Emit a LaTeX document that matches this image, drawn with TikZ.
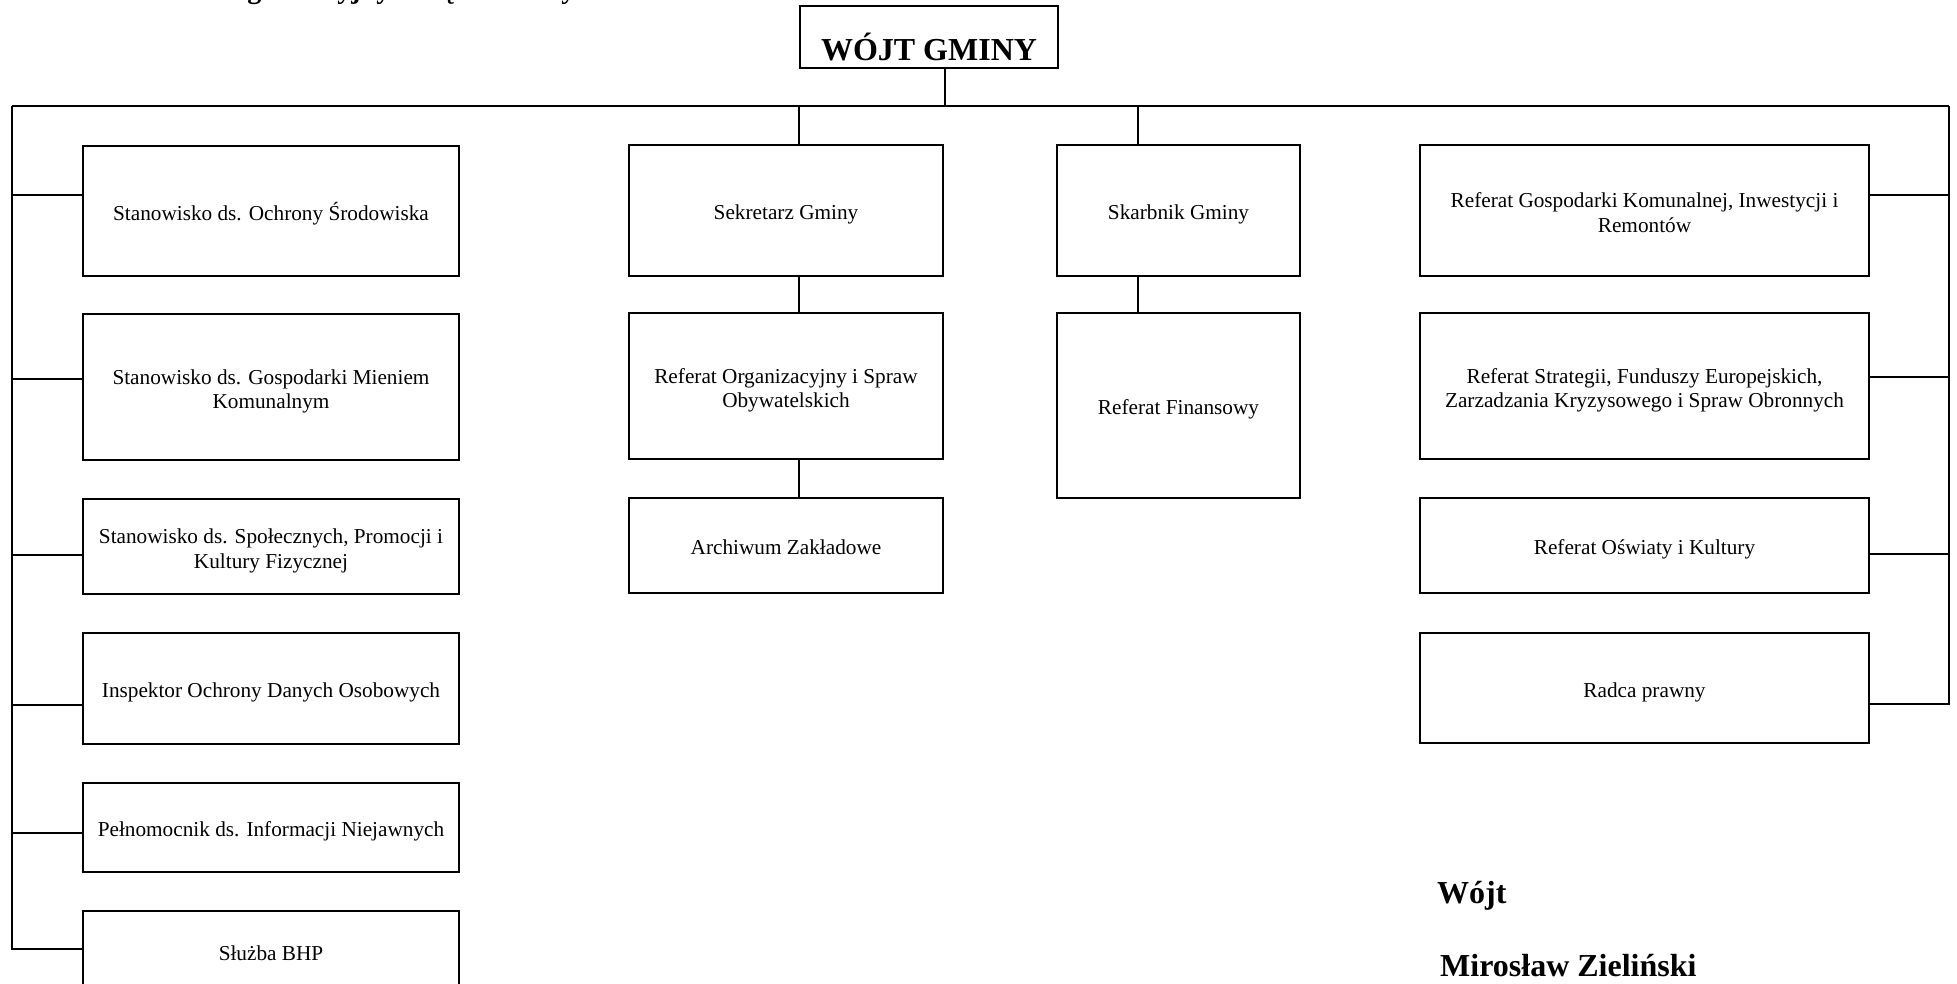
\documentclass[tikz,border=0pt]{standalone}
\usepackage{fontspec}
\setmainfont{Liberation Serif}
\begin{document}
\begin{tikzpicture}[x=1pt,y=-1pt,
  box/.style={draw, line width=1.3pt, align=center, inner sep=0pt,
    font=\fontsize{21.25}{24.5}\selectfont, text height=23.5pt, text depth=4.6pt},
  box2/.style={box, text height=48pt},
  conn/.style={line width=1.3pt},
  bigbold/.style={font=\fontsize{32}{34}\selectfont\bfseries}]
\useasboundingbox (0,0) rectangle (1957,984);
\clip (0,0) rectangle (1957,984);

% title (cut off at the top edge)
\node[anchor=base west, inner sep=0pt, font=\fontsize{28}{30}\selectfont\bfseries] (title) at (111,-1.5) {Schemat organizacyjny Urzędu Gminy};

% head
\node[draw, line width=1.3pt, inner sep=0pt, bigbold, text height=47pt, text depth=0pt, minimum width=258pt, minimum height=62pt] (W) at (929,37) {WÓJT GMINY};

% left column
\node[box, minimum width=376pt, minimum height=130pt] (L1) at (271,211) {Stanowisko ds. Ochrony Środowiska};
\node[box2, minimum width=376pt, minimum height=146pt] (L2) at (271,387) {Stanowisko ds. Gospodarki Mieniem\\Komunalnym};
\node[box2, minimum width=376pt, minimum height=95pt] (L3) at (271,546.5) {Stanowisko ds. Społecznych, Promocji i\\Kultury Fizycznej};
\node[box, minimum width=376pt, minimum height=111pt] (L4) at (271,688.5) {Inspektor Ochrony Danych Osobowych};
\node[box, minimum width=376pt, minimum height=89pt] (L5) at (271,827.5) {Pełnomocnik ds. Informacji Niejawnych};
\node[box, minimum width=376pt, minimum height=80pt] (L6) at (271,951) {Służba BHP};

% centre column 1
\node[box, minimum width=314pt, minimum height=131pt] (C1) at (786,210.5) {Sekretarz Gminy};
\node[box2, minimum width=314pt, minimum height=146pt] (C2) at (786,386) {Referat Organizacyjny i Spraw\\Obywatelskich};
\node[box, minimum width=314pt, minimum height=95pt] (C3) at (786,545.5) {Archiwum Zakładowe};

% centre column 2
\node[box, minimum width=243pt, minimum height=131pt] (D1) at (1178.5,210.5) {Skarbnik Gminy};
\node[box, minimum width=243pt, minimum height=185pt] (D2) at (1178.5,405.5) {Referat Finansowy};

% right column
\node[box2, minimum width=449pt, minimum height=131pt] (R1) at (1644.5,210.5) {Referat Gospodarki Komunalnej, Inwestycji i\\Remontów};
\node[box2, minimum width=449pt, minimum height=146pt] (R2) at (1644.5,386) {Referat Strategii, Funduszy Europejskich,\\Zarzadzania Kryzysowego i Spraw Obronnych};
\node[box, minimum width=449pt, minimum height=95pt] (R3) at (1644.5,545.5) {Referat Oświaty i Kultury};
\node[box, minimum width=449pt, minimum height=110pt] (R4) at (1644.5,688) {Radca prawny};

% signature
\node[anchor=base west, inner sep=0pt, bigbold] (sig1) at (1437,903) {Wójt};
\node[anchor=base west, inner sep=0pt, bigbold] (sig2) at (1440,976) {Mirosław Zieliński};

% junction coordinates
\coordinate (wb) at (945,106);
\coordinate (busL) at (12,106);
\coordinate (busR) at (1949,106);
\coordinate (c0) at (799,106);
\coordinate (d0) at (1138,106);
\coordinate (l1) at (12,195);
\coordinate (l2) at (12,379);
\coordinate (l3) at (12,555);
\coordinate (l4) at (12,705);
\coordinate (l5) at (12,833);
\coordinate (l6) at (12,949);
\coordinate (r1) at (1949,195);
\coordinate (r2) at (1949,377);
\coordinate (r3) at (1949,554);
\coordinate (r4) at (1949,704);

% connectors
\draw[conn] (W.south -| wb) -- (wb);
\draw[conn] (busL) -- (busR);
\draw[conn] (busL) -- (l6) -- (l6 -| L6.west);
\foreach \j/\n in {l1/L1,l2/L2,l3/L3,l4/L4,l5/L5}
  \draw[conn] (\j) -- (\j -| \n.west);
\draw[conn] (busR) -- (r4) -- (r4 -| R4.east);
\foreach \j/\n in {r1/R1,r2/R2,r3/R3}
  \draw[conn] (\j) -- (\j -| \n.east);
\draw[conn] (c0) -- (c0 |- C1.north);
\draw[conn] (c0 |- C1.south) -- (c0 |- C2.north);
\draw[conn] (c0 |- C2.south) -- (c0 |- C3.north);
\draw[conn] (d0) -- (d0 |- D1.north);
\draw[conn] (d0 |- D1.south) -- (d0 |- D2.north);
\end{tikzpicture}
\end{document}
